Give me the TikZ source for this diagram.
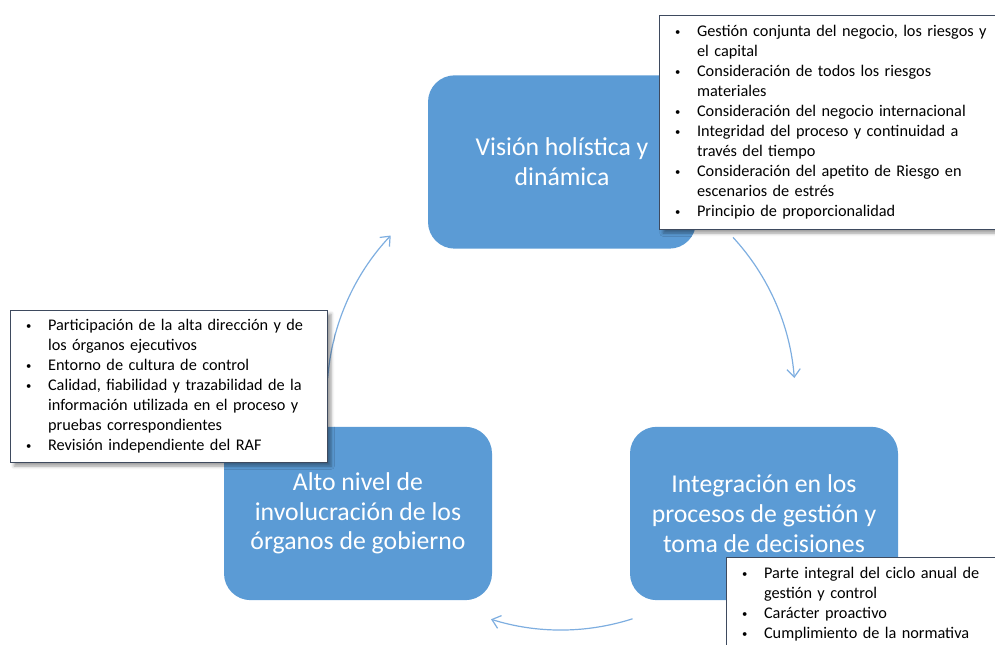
\documentclass[tikz,border=0pt]{standalone}
\usepackage{fontspec}
\setmainfont{Carlito}
\usetikzlibrary{arrows.meta,shadows.blur}
\definecolor{cycblue}{HTML}{5B9BD5}
\definecolor{cycline}{HTML}{7EAEE0}
\definecolor{noteline}{HTML}{3E4A5E}
\newcommand{\notelist}[1]{\begin{tabular}{@{\hspace{11.5pt}}p{16.5pt}@{}l@{}}#1\end{tabular}}
\newcommand{\dotmark}{\raisebox{0.9pt}{\fontsize{8}{8}\selectfont\textbullet}}

\begin{document}
\begin{tikzpicture}[x=0.75pt,y=0.75pt,
    stage/.style={rectangle,rounded corners=20pt,fill=cycblue,text=white,align=center,
        minimum width=201pt,minimum height=130pt,font=\fontsize{19.3}{22.3}\selectfont},
    note/.style={rectangle,draw=noteline,line width=1.1pt,fill=white,anchor=north west,
        inner sep=0pt,align=left,font=\fontsize{12.2}{15}\selectfont,
        blur shadow={shadow xshift=2.5pt,shadow yshift=-2.5pt,shadow blur radius=2.5pt}},
    flow/.style={cycline,line width=0.9pt,-{Straight Barb[length=6pt,width=10pt]}}]
    \def\cycr{234}
    \useasboundingbox (0,0) rectangle (995,645);
    \clip (0,0) rectangle (995,645);

    \node[stage] (vision) at (562,483) {Visión holística y\\dinámica};
    \node[stage] (govern) at (358,131.5) {Alto nivel de\\involucración de los\\órganos de gobierno};
    \node[stage] (integr) at (764,131.5) {Integración en los\\procesos de gestión y\\toma de decisiones};

    % cycle arrows
    \coordinate (hub) at (561,249);
    \draw[flow] (hub) ++(175.6:\cycr) arc[start angle=175.6,end angle=136.7,radius=\cycr];
    \draw[flow] (hub) ++(42.7:\cycr) arc[start angle=42.7,end angle=4.4,radius=\cycr];
    \draw[flow] (hub) ++(-72.2:\cycr) arc[start angle=-72.2,end angle=-107.4,radius=\cycr];

    \node[note,text width=258.75pt,minimum height=160.5pt] (visionnote) at (659,630) {\noindent\notelist{%
        \dotmark & Gestión conjunta del negocio, los riesgos y\\
                 & el capital\\
        \dotmark & Consideración de todos los riesgos\\
                 & materiales\\
        \dotmark & Consideración del negocio internacional\\
        \dotmark & Integridad del proceso y continuidad a\\
                 & través del tiempo\\
        \dotmark & Consideración del apetito de Riesgo en\\
                 & escenarios de estrés\\
        \dotmark & Principio de proporcionalidad}};
    \node[note,text width=237.75pt,minimum height=114pt] (governnote) at (10,335) {\noindent\notelist{%
        \dotmark & Participación de la alta dirección y de\\
                 & los órganos ejecutivos\\
        \dotmark & Entorno de cultura de control\\
        \dotmark & Calidad, fiabilidad y trazabilidad de la\\
                 & información utilizada en el proceso y\\
                 & pruebas correspondientes\\
        \dotmark & Revisión independiente del RAF}};
    \node[note,text width=210pt,minimum height=70.5pt] (integrnote) at (726,88) {\noindent\notelist{%
        \dotmark & Parte integral del ciclo anual de\\
                 & gestión y control\\
        \dotmark & Carácter proactivo\\
        \dotmark & Cumplimiento de la normativa}};
\end{tikzpicture}
\end{document}
